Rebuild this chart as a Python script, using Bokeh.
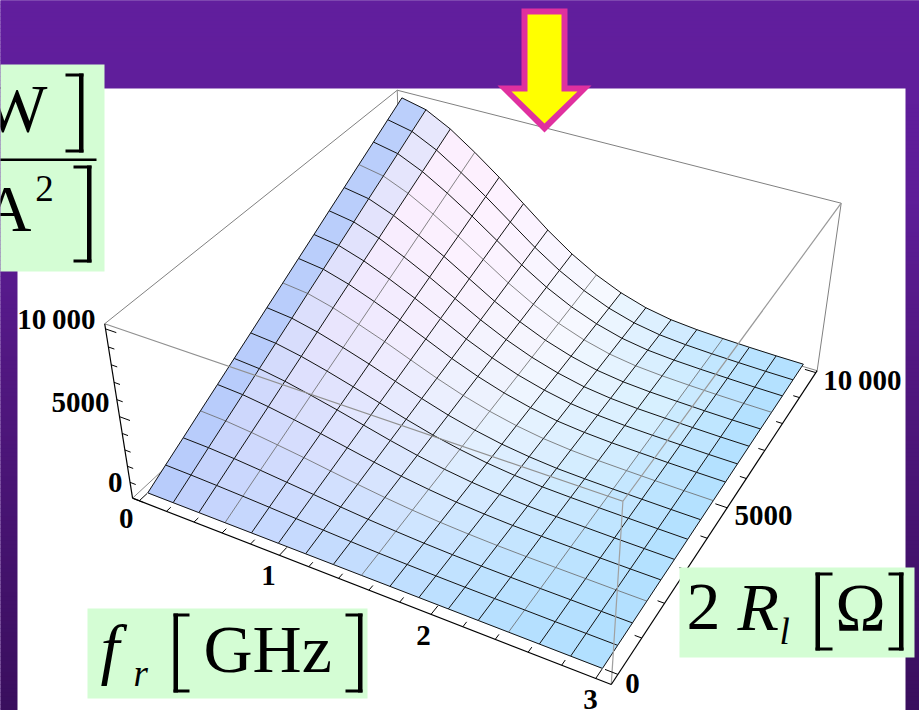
import numpy as np
from bokeh.plotting import figure
from bokeh.models import Range1d
from bokeh.core.properties import value
from bokeh.embed import file_html
from bokeh.resources import INLINE

fr_nodes = [0, .1875, .375, .5625, .75, .9375, 1.125, 1.3125, 1.5, 1.6875, 1.875, 2.0625, 2.25, 2.4375, 2.625, 2.8125, 3]
r_nodes = [0, 625, 1250, 1875, 2500, 3125, 3750, 4375, 5000, 5625, 6250, 6875, 7500, 8125, 8750, 9375, 10000]
# surface height: one row per fr node, one column per r node
z_f00 = [0,630,1250,1880,2500,3130,3750,4380,5000,5630,6250,6880,7500,8130,8750,9380,10000]
z_f01 = [0,600,1210,1810,2410,3020,3620,4220,4830,5430,6030,6630,7240,7840,8440,9050,9650]
z_f02 = [0,550,1110,1660,2210,2770,3320,3870,4430,4980,5530,6080,6640,7190,7740,8300,8850]
z_f03 = [0,490,980,1460,1950,2440,2930,3410,3900,4390,4880,5360,5850,6340,6830,7310,7800]
z_f04 = [0,420,830,1250,1660,2080,2490,2910,3330,3740,4160,4570,4990,5400,5820,6230,6650]
z_f05 = [0,340,680,1010,1350,1690,2030,2360,2700,3040,3380,3710,4050,4390,4730,5060,5400]
z_f06 = [0,260,520,780,1040,1300,1560,1820,2080,2330,2590,2850,3110,3370,3630,3890,4150]
z_f07 = [0,190,380,570,760,950,1140,1330,1530,1720,1910,2100,2290,2480,2670,2860,3050]
z_f08 = [0,130,270,400,540,670,810,940,1080,1210,1340,1480,1610,1750,1880,2020,2150]
z_f09 = [0,90,180,270,360,450,540,630,730,820,910,1000,1090,1180,1270,1360,1450]
z_f10 = [0,60,120,180,240,300,360,420,480,530,590,650,710,770,830,890,950]
z_f11 = [0,40,80,120,160,200,240,280,330,370,410,450,490,530,570,610,650]
z_f12 = [0,30,60,90,130,160,190,220,250,280,310,340,380,410,440,470,500]
z_f13 = [0,30,50,80,110,130,160,180,210,240,260,290,320,340,370,390,420]
z_f14 = [0,20,50,70,90,110,140,160,180,200,230,250,270,290,320,340,360]
z_f15 = [0,20,40,60,80,100,120,140,160,180,200,220,240,260,280,300,320]
z_f16 = [0,20,40,60,80,90,110,130,150,170,190,210,230,240,260,280,300]
Z = np.array([z_f00,z_f01,z_f02,z_f03,z_f04,z_f05,z_f06,z_f07,z_f08,z_f09,z_f10,z_f11,z_f12,z_f13,z_f14,z_f15,z_f16],float)

fr_ticks_major = [0, 1, 2, 3]
fr_ticks_minor = [.2, .4, .6, .8, 1.2, 1.4, 1.6, 1.8, 2.2, 2.4, 2.6, 2.8]
r_ticks_major = [0, 5000, 10000]
r_ticks_minor = [1000, 2000, 3000, 4000, 6000, 7000, 8000, 9000]
z_ticks_major = [0, 5000, 10000]
z_ticks_minor = [1000, 2000, 3000, 4000, 6000, 7000, 8000, 9000]
tick_text = ["10\u2009000", "5000", "0", "0", "1", "2", "3", "0", "5000", "10\u2009000"]

F_MIN, F_MAX = -0.05, 3.09
R_MIN, R_MAX = -270, 10080
Z_MIN, Z_MAX = 0, 10280
CAL = [((0,0,0),(131,496)),((1,0,0),(611.5,684)),((1,1,0),(817,369)),((0,1,0),(402,250)),
       ((0,0,1),(105,324)),((1,0,1),(622,502)),((1,1,1),(840,203)),((0,1,1),(397,88))]
A, b = [], []
for (u,v,w),(x,y) in CAL:
    A.append([u,v,w,1,0,0,0,0,-x*u,-x*v,-x*w]); b.append(x)
    A.append([0,0,0,0,u,v,w,1,-y*u,-y*v,-y*w]); b.append(y)
c = np.linalg.lstsq(np.array(A,float), np.array(b,float), rcond=None)[0]
def proj(f, r, z):
    u = (np.asarray(f,float)-F_MIN)/(F_MAX-F_MIN)
    v = (np.asarray(r,float)-R_MIN)/(R_MAX-R_MIN)
    w = (np.asarray(z,float)-Z_MIN)/(Z_MAX-Z_MIN)
    d = c[8]*u+c[9]*v+c[10]*w+1
    return (c[0]*u+c[1]*v+c[2]*w+c[3])/d, (c[4]*u+c[5]*v+c[6]*w+c[7])/d

p = figure(width=919, height=710, x_range=Range1d(0,919), y_range=Range1d(710,0),
           x_axis_type=None, y_axis_type=None, toolbar_location=None, output_backend="svg",
           min_border=0, outline_line_color=None, background_fill_color="#621f9e")
p.grid.visible = False

ys = np.arange(-4,716,4)
bg = np.stack([np.interp(ys,[0,200,355,710],[98,94,82,58]),
               np.interp(ys,[0,200,355,710],[31,29,24,15]),
               np.interp(ys,[0,200,355,710],[158,152,130,94])],axis=1).astype(int)
p.quad(left=-5,right=925,top=ys,bottom=ys+4.5,fill_color=[f"#{a:02x}{b_:02x}{c_:02x}" for a,b_,c_ in bg],line_color=None)
p.quad(left=[17],right=[905],top=[88],bottom=[716],fill_color="#ffffff",line_color=None)

GRAY="#808080"
def box_line(a,b_,color=GRAY,w=1.0,alpha=1.0):
    x,y = proj([a[0],b_[0]],[a[1],b_[1]],[a[2],b_[2]])
    p.line(x,y,line_color=color,line_width=w,line_alpha=alpha)
E=lambda u,v,w:((F_MAX if u else F_MIN),(R_MAX if v else R_MIN),(Z_MAX if w else Z_MIN))
box_line(E(0,0,0),E(0,1,0),"#888888"); box_line(E(0,1,0),E(1,1,0),"#888888"); box_line(E(0,1,0),E(0,1,1),"#888888")
box_line(E(0,0,1),E(0,1,1)); box_line(E(0,1,1),E(1,1,1)); box_line(E(1,1,1),E(1,1,0))

ci=[.5,1.5,2.5,4.5,8.5,12.5,15.5]; cj=[0,4,8,12,16]
CT=np.array([
 [(184,204,251),(184,204,251),(186,206,251),(186,206,251),(188,208,251)],
 [(192,208,252),(207,216,252),(222,224,252),(228,228,252),(232,232,252)],
 [(196,212,253),(214,220,253),(236,231,254),(250,238,254),(253,240,254)],
 [(196,216,254),(220,226,254),(241,237,254),(252,242,255),(254,242,255)],
 [(192,222,255),(216,234,255),(234,244,255),(246,248,255),(246,250,255)],
 [(182,224,255),(194,229,255),(208,236,255),(216,241,255),(194,230,255)],
 [(178,224,255),(180,225,255),(180,225,255),(180,225,255),(180,225,255)]],float)
def col(i,j):
    out=[]
    for k in range(3):
        rowv=[np.interp(j,cj,CT[a,:,k]) for a in range(len(ci))]
        out.append(int(np.interp(i,ci,rowv)))
    return "#%02x%02x%02x"%tuple(out)
F,R=np.meshgrid(fr_nodes,r_nodes,indexing="ij")
PX,PY=proj(F,R,Z)
xs,ys_,cs=[],[],[]
for i in range(16):
    for j in range(16):
        xs.append([PX[i,j],PX[i+1,j],PX[i+1,j+1],PX[i,j+1]])
        ys_.append([PY[i,j],PY[i+1,j],PY[i+1,j+1],PY[i,j+1]])
        cs.append(col(i+.5,j+.5))
p.patches(xs,ys_,fill_color=cs,line_color=cs,line_width=0.5)
THIN=(3,8,13)
tx_,ty_,hx_,hy_=[],[],[],[]
for k in range(17):
    (tx_ if k in THIN else hx_).append(list(PX[k,:])); (ty_ if k in THIN else hy_).append(list(PY[k,:]))
    (tx_ if k in THIN else hx_).append(list(PX[:,k])); (ty_ if k in THIN else hy_).append(list(PY[:,k]))
p.multi_line(tx_,ty_,line_color="#666666",line_width=0.8)
p.multi_line(hx_,hy_,line_color="#111111",line_width=1.0)

box_line(E(0,0,1),E(1,0,1),"#909090",1.2); box_line(E(1,0,1),E(1,1,1),"#999999",1.2); box_line(E(1,0,0),E(1,0,1),"#a0a0a0",1.2)
box_line(E(0,0,0),E(1,0,0),"#000000",1.2); box_line(E(1,0,0),E(1,1,0),"#000000",1.2); box_line(E(0,0,0),E(0,0,1),"#000000",1.2)
def ticks(fn,vals,length):
    tx,ty=[],[]
    for t in vals:
        a,b_=fn(t,length)
        x,y=proj([a[0],b_[0]],[a[1],b_[1]],[a[2],b_[2]])
        tx.append(list(x)); ty.append(list(y))
    p.multi_line(tx,ty,line_color="#000000",line_width=1)
ff=lambda t,l:((t,R_MIN,0),(t,R_MIN+l*10000,0))
fr=lambda t,l:((F_MAX,t,0),(F_MAX-l*3,t,0))
fz=lambda t,l:((F_MIN,R_MIN,t),(F_MIN+l*3,R_MIN,t))
for fn,ma,mi in [(ff,fr_ticks_major,fr_ticks_minor),(fr,r_ticks_major,r_ticks_minor),(fz,z_ticks_major,z_ticks_minor)]:
    ticks(fn,ma,.025); ticks(fn,mi,.014)

p.patch([521,567,567,591,544,497,521],[8,8,85,85,132,85,85],fill_color="#e0309f",line_color=None)
p.patch([527,561,561,577,544,511,527],[14,14,91,91,123,91,91],fill_color="#ffff00",line_color=None)

GREEN="#d4fdd4"
p.quad(left=[-2,87,679],right=[104,367,914],top=[64,608,567],bottom=[271,698,657],fill_color=GREEN,line_color=None)
ql,qr,qt,qb=[],[],[],[]
def bracket(x0,x1,y0,y1,side,tv=4.5,th=3):
    if side=="r":
        ql.extend([x1-tv,x0,x0]);qr.extend([x1,x1,x1]);qt.extend([y0,y0,y1-th]);qb.extend([y1,y0+th,y1])
    else:
        ql.extend([x0,x0,x0]);qr.extend([x0+tv,x1,x1]);qt.extend([y0,y0,y1-th]);qb.extend([y1,y0+th,y1])
bracket(65,83,73,152,"r"); bracket(73,91,165,262,"r")
bracket(173,189,613,692,"l"); bracket(345,362,613,692,"r")
bracket(815,832,572,650,"l"); bracket(888,903,572,650,"r")
ql.append(-2);qr.append(96);qt.append(158);qb.append(160.5)
p.quad(left=ql,right=qr,top=qt,bottom=qb,fill_color="#000000",line_color=None)

SERIF=value("Liberation Serif")
def T(x,y,s,size,align="left",style="normal"):
    p.text([x],[y],text=[s],text_font=SERIF,text_font_size=f"{size}px",text_align=align,
           text_baseline="middle",text_font_style=style,text_color="#000000")
T(47,107.5,"W",68,"right")
T(31,208,"A",66,"right")
T(44,187.5,"2",37,"center")
T(100,648,"f",68,"left","italic")
T(133,673,"r",37,"left","italic")
T(203,648,"GHz",68)
T(686,606,"2",68)
T(737,606,"R",68,"left","italic")
T(779,631,"l",37,"left","italic")
T(860,606,"\u03a9",68,"center")
tick_x=[95,109,122,133,268,423,590,632,792,901]
tick_y=[318,402,482,518,575,635,699,683,515,379]
tick_al=["right","right","right","right","center","center","center","center","right","right"]
for t,x,y,a in zip(tick_text,tick_x,tick_y,tick_al):
    T(x,y,t,29,a,"bold")

open("out.html","w").write(file_html(p,INLINE))
